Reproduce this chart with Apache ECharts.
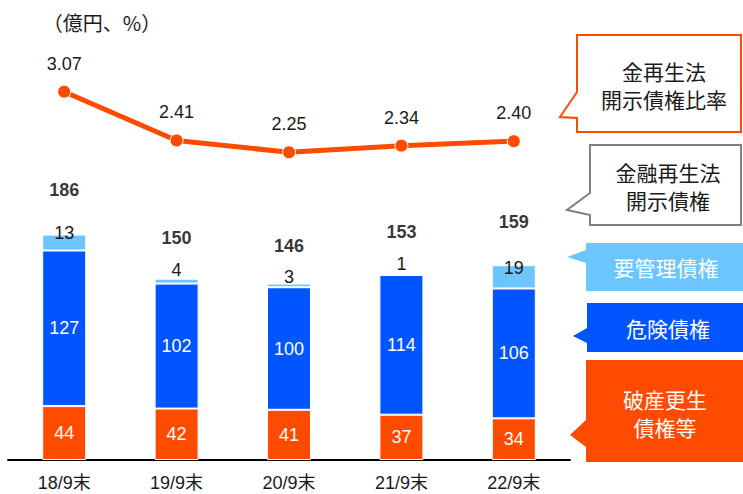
<!DOCTYPE html>
<html>
<head>
<meta charset="utf-8">
<script src="https://cdn.jsdelivr.net/npm/echarts@6/dist/echarts.min.js"></script>
<style>
  html, body { margin: 0; padding: 0; background: #fff; }
  #chart { width: 743px; height: 494px; }
</style>
</head>
<body>
<div id="chart"></div>
<script>
// 金融再生法開示債権の推移（億円）と開示債権比率（%）
const categories = ['18/9末', '19/9末', '20/9末', '21/9末', '22/9末'];
const bankruptcy = [44, 42, 41, 37, 34];          // 破産更生債権等
const doubtful = [127, 102, 100, 114, 106];       // 危険債権
const substandard = [13, 4, 3, 1, 19];            // 要管理債権
const totals = [186, 150, 146, 153, 159];         // 金融再生法開示債権
const ratio = [3.07, 2.41, 2.25, 2.34, 2.40];     // 金融再生法開示債権比率（%）

// vertical nudges (px) for the small labels above each stack
const substandardShift = [-2, -9, -7, -10, 3];
const totalShift = [-42, -38, -35, -41, -43];

const ORANGE = '#FF4B00';
const BLUE = '#0055FF';
const LIGHT = '#6CC5FF';
const NUM_FONT = "Liberation Sans, Arial, Noto Sans CJK JP, sans-serif";
const JP_FONT = "Noto Sans CJK JP, sans-serif";

const chart = echarts.init(document.getElementById('chart'), null, { renderer: 'svg' });

const insideWhite = {
  show: true, position: 'inside', color: '#fff',
  fontSize: 18, fontFamily: NUM_FONT
};

// callout boxes on the right
function box(points, fill, stroke) {
  return {
    type: 'polygon', silent: true,
    shape: { points: points },
    style: { fill: fill, stroke: stroke || null, lineWidth: stroke ? 2 : 0 }
  };
}
function label(text, x, y, color, size) {
  return {
    type: 'text', silent: true, x: x, y: y,
    style: {
      text: text, fill: color, fontSize: size || 21, fontFamily: JP_FONT,
      align: 'center', verticalAlign: 'middle'
    }
  };
}

const graphics = [
  label('（億円、%）', 102, 22, '#1a1a1a', 20),
  box([[577, 35], [741, 35], [741, 132], [577, 132], [577, 118], [560, 117], [577, 92]], '#fff', ORANGE),
  label('金再生法', 664, 71, '#1a1a1a'),
  label('開示債権比率', 664, 99, '#1a1a1a'),
  box([[590, 145], [741, 145], [741, 225], [590, 225], [590, 215], [567, 210], [590, 193]], '#fff', '#808080'),
  label('金融再生法', 668, 172, '#1a1a1a'),
  label('開示債権', 668, 200, '#1a1a1a'),
  box([[586, 243], [743, 243], [743, 291], [586, 291], [586, 263], [567, 257], [586, 250]], LIGHT),
  label('要管理債権', 666, 267, '#fff'),
  box([[587, 303], [743, 303], [743, 352], [587, 352], [587, 343], [573, 336], [587, 328]], BLUE),
  label('危険債権', 668, 328, '#fff'),
  box([[586, 360], [743, 360], [743, 462], [586, 462], [586, 447], [570, 435], [586, 420]], ORANGE),
  label('破産更生', 665, 399, '#fff'),
  label('債権等', 665, 427, '#fff')
];

chart.setOption({
  animation: false,
  backgroundColor: '#fff',
  grid: { left: 8, right: 173, top: 30, bottom: 34, containLabel: false },
  xAxis: {
    type: 'category',
    data: categories,
    axisLine: { show: true, lineStyle: { color: '#000', width: 2 } },
    axisTick: { show: false },
    axisLabel: { color: '#1a1a1a', fontSize: 18, fontFamily: NUM_FONT, margin: 14 }
  },
  yAxis: [
    { type: 'value', min: 0, max: 351, show: false, splitLine: { show: false } },
    { type: 'value', min: -1.914, max: 3.905, show: false, splitLine: { show: false } }
  ],
  series: [
    {
      name: '破産更生債権等', type: 'bar', stack: 'npl', barWidth: 44,
      data: bankruptcy,
      itemStyle: { color: ORANGE, borderColor: '#fff', borderWidth: 1 },
      label: insideWhite
    },
    {
      name: '危険債権', type: 'bar', stack: 'npl', barWidth: 44,
      data: doubtful,
      itemStyle: { color: BLUE, borderColor: '#fff', borderWidth: 1 },
      label: insideWhite
    },
    {
      name: '要管理債権', type: 'bar', stack: 'npl', barWidth: 44,
      data: substandard.map((v, i) => ({
        value: v,
        label: { offset: [0, substandardShift[i]] }
      })),
      itemStyle: { color: LIGHT, borderColor: '#fff', borderWidth: 1 },
      label: {
        show: true, position: 'top', distance: 0, verticalAlign: 'middle',
        color: '#1a1a1a', fontSize: 18, fontFamily: NUM_FONT
      }
    },
    {
      name: '金融再生法開示債権', type: 'scatter',
      data: totals.map((v, i) => ({
        value: v,
        label: { offset: [0, totalShift[i]] }
      })),
      symbolSize: 1,
      itemStyle: { color: 'rgba(0,0,0,0)' },
      label: {
        show: true, position: 'inside', color: '#000',
        fontSize: 18, fontWeight: 'bold', fontFamily: NUM_FONT
      },
      z: 5
    },
    {
      name: '開示債権比率', type: 'line', yAxisIndex: 1,
      data: ratio,
      symbol: 'circle', symbolSize: 13,
      lineStyle: { color: ORANGE, width: 5 },
      itemStyle: { color: ORANGE, borderColor: '#fff', borderWidth: 1 },
      label: {
        show: true, position: 'inside', offset: [0, -28],
        color: '#1a1a1a', fontSize: 18, fontFamily: NUM_FONT,
        formatter: p => p.value.toFixed(2)
      },
      z: 10
    }
  ],
  graphic: graphics
});
</script>
</body>
</html>
